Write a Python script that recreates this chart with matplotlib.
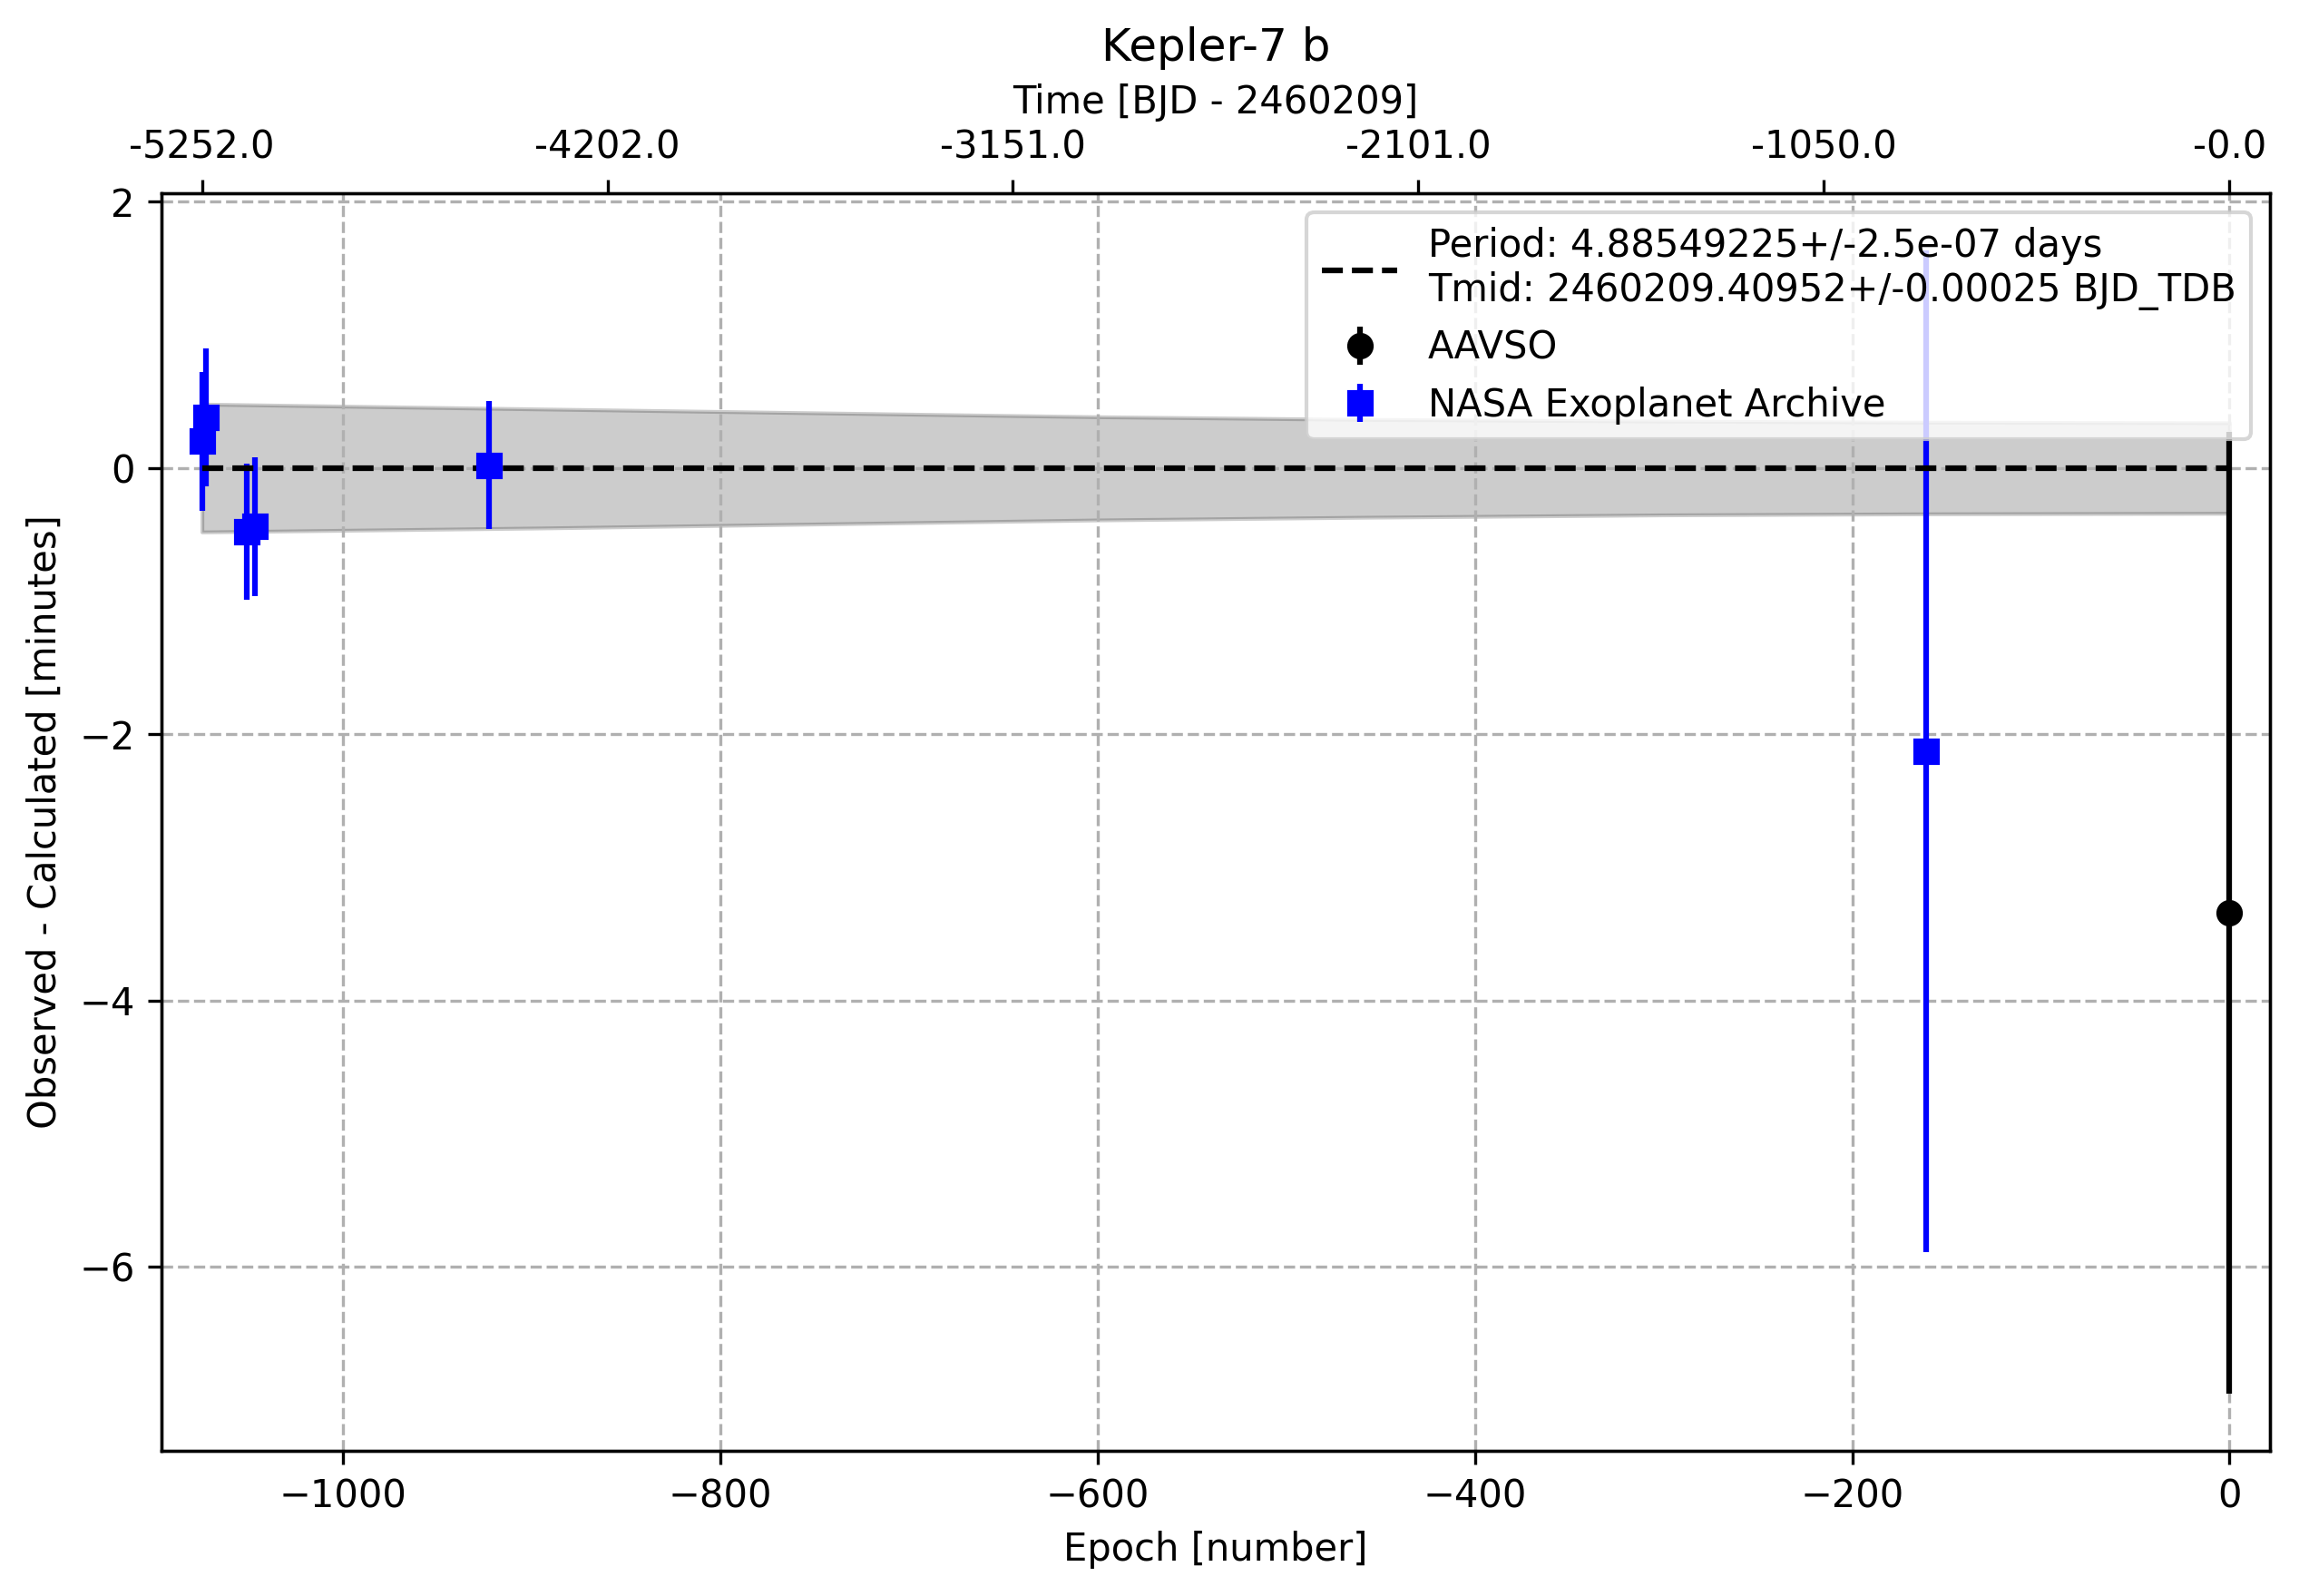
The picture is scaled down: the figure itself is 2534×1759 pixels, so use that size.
import numpy as np
import matplotlib.pyplot as plt

# values (O-C in minutes)
nasa_epoch = [-1075, -1073, -1051, -1047, -923, -161]
nasa_oc = [0.20, 0.38, -0.48, -0.44, 0.02, -2.125]
nasa_err = [0.52, 0.52, 0.51, 0.52, 0.48, 3.76]

aavso_epoch = [0]
aavso_oc = [-3.34]
aavso_err = [3.61]

# uncertainty band of the linear ephemeris
band_epoch = [-1075, -894, -600, -461, -300, -161, 0]
band_upper = [0.48, 0.443, 0.385, 0.365, 0.352, 0.344, 0.34]
band_lower = [-0.48, -0.45, -0.39, -0.37, -0.352, -0.344, -0.34]

top_ticks = [-1075, -860, -645, -430, -215, 0]
top_labels = ['-5252.0', '-4202.0', '-3151.0', '-2101.0', '-1050.0', '-0.0']

ephem_label = ('Period: 4.88549225+/-2.5e-07 days\n'
               'Tmid: 2460209.40952+/-0.00025 BJD_TDB')

fig = plt.figure(figsize=(2534 / 300, 1759 / 300), dpi=300)
ax = fig.add_subplot(111)
plt.subplots_adjust(left=0.0702, right=0.9874, bottom=0.0910, top=0.8790)

ax.fill_between(band_epoch, band_upper, band_lower, color='black', alpha=0.2)
ax.errorbar(aavso_epoch, aavso_oc, yerr=aavso_err, fmt='ko', label='AAVSO')
ax.errorbar(nasa_epoch, nasa_oc, yerr=nasa_err, fmt='bs', label='NASA Exoplanet Archive')
ax.plot([band_epoch[0], band_epoch[-1]], [0, 0], 'k--', label=ephem_label)

ax.set_xlim(-1096.5, 21.5)
ax.set_xlabel('Epoch [number]')
ax.set_ylabel('Observed - Calculated [minutes]')
ax.grid(True, ls='--')
ax.legend(loc='upper right')

ax_t = ax.twiny()
ax_t.set_xlim(ax.get_xlim())
ax_t.set_xticks(top_ticks)
ax_t.set_xticklabels(top_labels)
ax_t.set_xlabel('Time [BJD - 2460209]')
ax.set_title('Kepler-7 b')

plt.savefig('out.png', dpi=300)
